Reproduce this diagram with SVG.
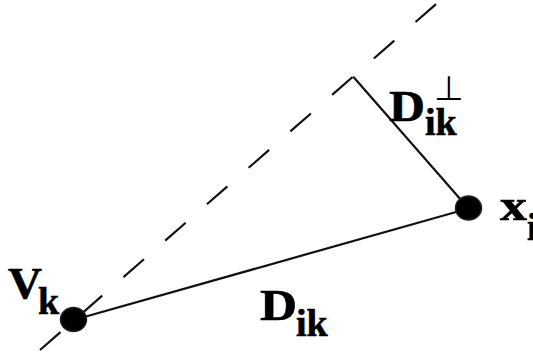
<svg xmlns="http://www.w3.org/2000/svg" width="533" height="356" viewBox="0 0 533 356">
<style>
.ln{stroke:#111;stroke-width:2.2;fill:none;stroke-linecap:butt}
.dash{stroke-dasharray:27.2 28.2}
.dot{fill:#000;stroke:#222;stroke-width:1.5}
.lb{font-family:"Liberation Serif","DejaVu Serif",serif;font-weight:bold;fill:#000;stroke:#000;stroke-width:0.6}
.big{font-size:45px}
.sub{font-size:38px}
.perp{font-family:"DejaVu Sans","Liberation Sans",sans-serif;font-weight:normal;fill:#000;font-size:34px}
</style>
<rect width="533" height="356" fill="#fff"/>
<g id="connectors">
<line class="ln dash" x1="40" y1="350" x2="436.2" y2="4"/>
<line class="ln" x1="353.3" y1="76.8" x2="468.5" y2="208.5"/>
<line class="ln" x1="73.5" y1="320" x2="468.5" y2="208.5"/>
</g>
<g id="Vk">
<ellipse class="dot" cx="73.5" cy="319.5" rx="13" ry="12"/>
<text class="lb big" x="8" y="298" textLength="34" lengthAdjust="spacingAndGlyphs">V</text>
<text class="lb sub" x="38" y="314">k</text>
</g>
<g id="xi">
<ellipse class="dot" cx="468.5" cy="208" rx="13" ry="12"/>
<text class="lb big" x="500" y="220" textLength="27" lengthAdjust="spacingAndGlyphs">x</text>
<text class="lb sub" x="527" y="240">i</text>
</g>
<g id="Dik">
<text class="lb big" x="260" y="320" textLength="37" lengthAdjust="spacingAndGlyphs">D</text>
<text class="lb sub" x="296" y="336">ik</text>
</g>
<g id="Dperp">
<text class="lb big" x="389" y="121" textLength="36" lengthAdjust="spacingAndGlyphs">D</text>
<text class="lb sub" x="425" y="135">ik</text>
<text class="perp" x="434" y="100">⊥</text>
</g>
</svg>
